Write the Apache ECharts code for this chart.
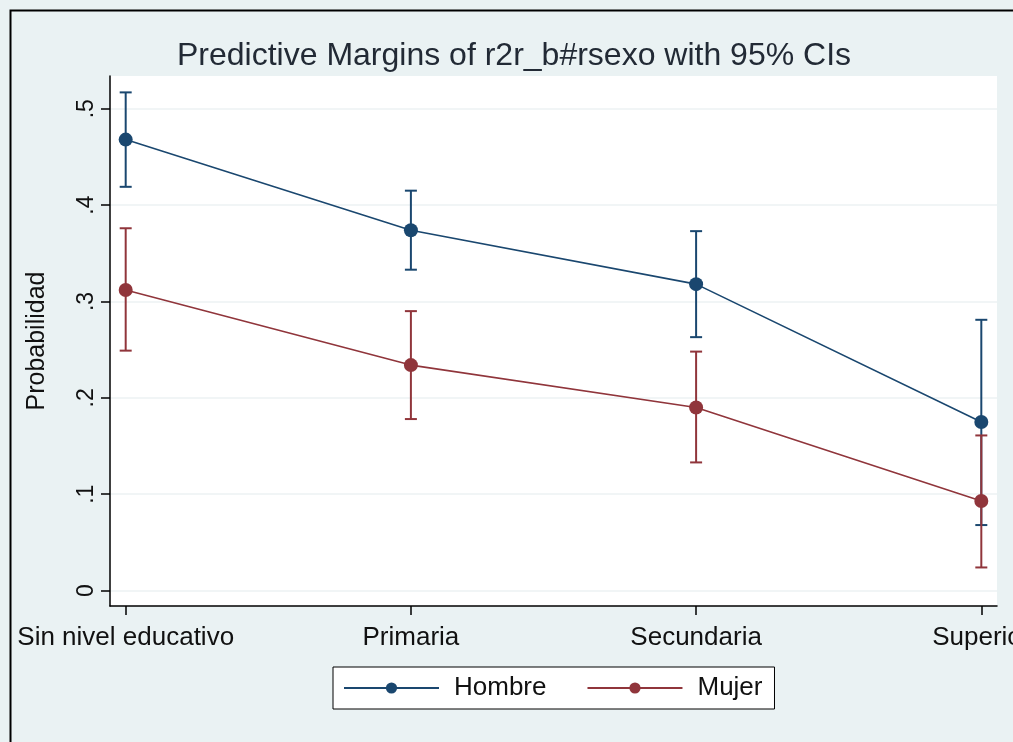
<!DOCTYPE html>
<html>
<head>
<meta charset="utf-8">
<script src="https://cdn.jsdelivr.net/npm/echarts@6/dist/echarts.min.js"></script>
<style>
  html, body { margin: 0; padding: 0; background: #eaf2f3; }
</style>
</head>
<body>
<div id="card" style="width:1013px;height:742px;"></div>
<script>
// niveles educativos (eje x)
var categories = ['Sin nivel educativo', 'Primaria', 'Secundaria', 'Superior']
// margenes predichos y IC 95%
var hombreMargin = [0.468, 0.374, 0.318, 0.175]
var hombreLow = [0.419, 0.333, 0.263, 0.068]
var hombreHigh = [0.517, 0.415, 0.373, 0.281]
var mujerMargin = [0.312, 0.234, 0.190, 0.093]
var mujerLow = [0.249, 0.178, 0.133, 0.024]
var mujerHigh = [0.376, 0.290, 0.248, 0.161]
var yTicks = [0, 0.1, 0.2, 0.3, 0.4, 0.5]
var xTicks = [0, 1, 2, 3]

var navy = '#1a476f'
var maroon = '#90353b'
var fontName = 'Liberation Sans'

function points (vals) {
  return vals.map(function (v, i) { return [i, v] })
}
function ciData (lo, hi) {
  return lo.map(function (v, i) { return [i, v, hi[i]] })
}
function ciSeries (name, color, lo, hi) {
  return {
    name: name,
    type: 'custom',
    z: 1,
    silent: true,
    data: ciData(lo, hi),
    renderItem: function (params, api) {
      var top = api.coord([api.value(0), api.value(2)])
      var bot = api.coord([api.value(0), api.value(1)])
      var st = { stroke: color, lineWidth: 2 }
      return {
        type: 'group',
        children: [
          { type: 'line', shape: { x1: top[0], y1: top[1], x2: bot[0], y2: bot[1] }, style: st },
          { type: 'line', shape: { x1: top[0] - 6, y1: top[1], x2: top[0] + 6, y2: top[1] }, style: st },
          { type: 'line', shape: { x1: bot[0] - 6, y1: bot[1], x2: bot[0] + 6, y2: bot[1] }, style: st }
        ]
      }
    }
  }
}

var myChart = echarts.init(document.getElementById('card'))
var option = {
  backgroundColor: '#eaf2f3',
  animation: false,
  textStyle: { fontFamily: fontName },
  graphic: [{
    type: 'rect',
    left: 8,
    top: 8,
    shape: { width: 1100, height: 800 },
    style: { fill: 'none', stroke: '#000', lineWidth: 2 },
    silent: true
  }],
  title: {
    text: 'Predictive Margins of r2r_b#rsexo with 95% CIs',
    left: 177,
    top: 40,
    padding: 0,
    textStyle: { fontFamily: fontName, fontSize: 32, fontWeight: 'normal', color: '#222a35' }
  },
  legend: {
    data: ['Hombre', 'Mujer'],
    left: 333,
    top: 667,
    padding: [8, 12, 8, 10],
    itemGap: 40,
    itemWidth: 95,
    itemHeight: 14,
    backgroundColor: '#fff',
    borderColor: '#000',
    borderWidth: 1,
    borderRadius: 0,
    textStyle: { fontFamily: fontName, fontSize: 26, color: '#111', padding: [0, 0, 0, 10] }
  },
  grid: {
    left: 110,
    right: 16,
    top: 76,
    bottom: 136,
    show: true,
    backgroundColor: '#fff',
    borderWidth: 0,
    containLabel: false,
    outerBoundsMode: 'none'
  },
  xAxis: {
    type: 'value',
    min: -0.055,
    max: 3.055,
    axisLine: { show: true, onZero: false, lineStyle: { color: '#000', width: 1.5 } },
    axisTick: { show: true, customValues: xTicks, length: 9, lineStyle: { color: '#000', width: 1.5 } },
    axisLabel: {
      customValues: xTicks,
      margin: 19,
      fontSize: 26,
      color: '#111',
      fontFamily: fontName,
      formatter: function (v) { return categories[Math.round(v)] }
    },
    splitLine: { show: false }
  },
  yAxis: {
    type: 'value',
    name: 'Probabilidad',
    nameLocation: 'middle',
    nameRotate: 90,
    nameGap: 60,
    nameTextStyle: { fontFamily: fontName, fontSize: 25, color: '#111' },
    min: -0.016,
    max: 0.534,
    axisLine: { show: true, onZero: false, lineStyle: { color: '#000', width: 1.5 } },
    axisTick: { show: true, customValues: yTicks, length: 9, lineStyle: { color: '#000', width: 1.5 } },
    axisLabel: {
      customValues: yTicks,
      rotate: 90,
      margin: 12,
      fontSize: 23,
      color: '#111',
      fontFamily: fontName,
      formatter: function (v) { return v === 0 ? '0' : v.toFixed(1).replace(/^0/, '') }
    },
    splitLine: { show: true, lineStyle: { color: '#edf2f3', width: 1.5 } }
  },
  series: [
    ciSeries('Hombre IC', navy, hombreLow, hombreHigh),
    ciSeries('Mujer IC', maroon, mujerLow, mujerHigh),
    {
      name: 'Hombre',
      type: 'line',
      z: 3,
      data: points(hombreMargin),
      symbol: 'circle',
      symbolSize: 14,
      itemStyle: { color: navy },
      lineStyle: { color: navy, width: 1.6 }
    },
    {
      name: 'Mujer',
      type: 'line',
      z: 3,
      data: points(mujerMargin),
      symbol: 'circle',
      symbolSize: 14,
      itemStyle: { color: maroon },
      lineStyle: { color: maroon, width: 1.6 }
    }
  ]
}
myChart.setOption(option)
</script>
</body>
</html>
